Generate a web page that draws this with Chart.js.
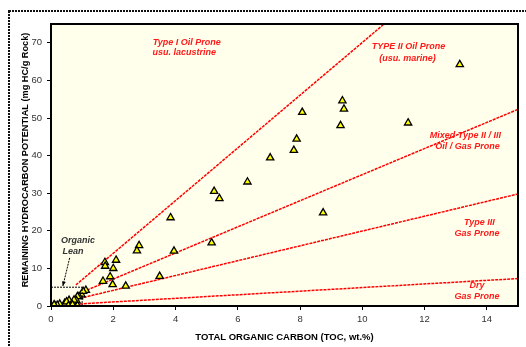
<!DOCTYPE html>
<html>
<head>
<meta charset="utf-8">
<script src="https://cdn.jsdelivr.net/npm/chart.js@4.4.1/dist/chart.umd.min.js"></script>
<style>
  html, body { margin: 0; padding: 0; background: #fff; }
  #wrap { width: 526px; height: 347px; }
</style>
</head>
<body>
<div id="wrap"><canvas id="tocChart" width="526" height="347"></canvas></div>
<script>
// Samples: TOC (wt.%) vs remaining potential S2 (mg HC/g rock)
const tocValues = [13.13, 8.07, 9.36, 9.41, 9.30, 11.47, 7.89, 7.80, 7.04, 8.74,
  6.31, 5.24, 5.41, 3.84, 5.16, 2.83, 2.76, 3.95, 2.09, 1.73,
  1.74, 2.00, 1.67, 1.90, 1.98, 2.40, 3.49, 1.12, 0.98, 1.03,
  0.90, 0.85, 0.82, 0.71, 0.58, 0.44, 0.28, 0.12, 0.00, 0.66,
  0.82, 0.85, 0.50, 0.20, 0.10, 0.56, 0.74, 0.69];
const s2Values = [64.2, 51.5, 54.6, 52.4, 48.0, 48.7, 44.4, 41.4, 39.4, 24.8,
  33.0, 30.5, 28.6, 23.5, 16.8, 16.1, 14.7, 14.6, 12.2, 11.6,
  10.6, 10.0, 6.6, 7.8, 5.7, 5.3, 7.9, 4.2, 3.0, 3.9,
  2.5, 2.5, 1.4, 0.9, 1.5, 0.7, 0.5, 0.2, 0.1, 0.0,
  0.0, 0.1, 1.1, 0.2, 0.3, 0.1, 1.6, 0.3];

// kerogen boundary lines, [toc, s2] end points
const typeILine = [[0.8, 5.6], [10.7, 75]];
const mixedLine = [[0.8, 3.0], [15, 52.3]];
const typeIIILine = [[0.8, 1.8], [15, 29.8]];
const dryLine = [[0.8, 0.5], [15, 7.3]];

// organic lean cut-offs
const leanToc = 1.0;
const leanS2 = 5.0;

const xTicks = [0, 2, 4, 6, 8, 10, 12, 14];
const yTicks = [0, 10, 20, 30, 40, 50, 60, 70];

const xTitle = 'TOTAL ORGANIC CARBON (TOC, wt.%)';
const yTitle = 'REMAINING HYDROCARBON POTENTIAL (mg HC/g Rock)';

const FONT = "'Liberation Sans', Arial, sans-serif";

const toPoints = arr => arr.map(p => ({ x: p[0], y: p[1] }));

const regionLabels = [
    { text: 'Type I Oil Prone', x: 4.36, y: 70.2 },
    { text: 'usu. lacustrine', x: 4.28, y: 67.4 },
    { text: 'TYPE II Oil Prone', x: 11.48, y: 69.0 },
    { text: '(usu. marine)', x: 11.45, y: 65.9 },
    { text: 'Mixed Type II / III', x: 13.31, y: 45.3 },
    { text: 'Oil / Gas Prone', x: 13.38, y: 42.5 },
    { text: 'Type III', x: 13.76, y: 22.2 },
    { text: 'Gas Prone', x: 13.68, y: 19.3 },
    { text: 'Dry', x: 13.68, y: 5.4 },
    { text: 'Gas Prone', x: 13.68, y: 2.5 }
];

const decorPlugin = {
    id: 'decor',
    beforeDraw(chart) {
        const { ctx, chartArea } = chart;
        ctx.save();
        ctx.fillStyle = '#FFFFEC';
        ctx.fillRect(chartArea.left, chartArea.top, chartArea.right - chartArea.left, chartArea.bottom - chartArea.top);
        // outer frame
        ctx.strokeStyle = '#111';
        ctx.lineWidth = 2;
        ctx.setLineDash([2, 1]);
        ctx.strokeRect(9, 11, 530, 350);
        ctx.restore();
    },
    afterDatasetsDraw(chart) {
        const { ctx, chartArea, scales } = chart;
        const xs = scales.x, ys = scales.y;
        ctx.save();

        // lean box
        ctx.strokeStyle = '#000';
        ctx.lineWidth = 1;
        ctx.setLineDash([2, 1]);
        ctx.beginPath();
        ctx.moveTo(xs.getPixelForValue(0), ys.getPixelForValue(leanS2));
        ctx.lineTo(xs.getPixelForValue(leanToc), ys.getPixelForValue(leanS2));
        ctx.lineTo(xs.getPixelForValue(leanToc), ys.getPixelForValue(0));
        ctx.stroke();

        // arrow from label to box
        const ax1 = xs.getPixelForValue(0.6), ay1 = ys.getPixelForValue(12.8);
        const ax2 = xs.getPixelForValue(0.38), ay2 = ys.getPixelForValue(5.3);
        ctx.beginPath();
        ctx.moveTo(ax1, ay1);
        ctx.lineTo(ax2, ay2);
        ctx.stroke();
        const ang = Math.atan2(ay2 - ay1, ax2 - ax1);
        ctx.setLineDash([]);
        ctx.fillStyle = '#000';
        ctx.beginPath();
        ctx.moveTo(ax2, ay2);
        ctx.lineTo(ax2 - 5 * Math.cos(ang - 0.4), ay2 - 5 * Math.sin(ang - 0.4));
        ctx.lineTo(ax2 - 5 * Math.cos(ang + 0.4), ay2 - 5 * Math.sin(ang + 0.4));
        ctx.closePath();
        ctx.fill();

        ctx.textAlign = 'center';
        ctx.textBaseline = 'middle';
        ctx.font = `italic bold 9px ${FONT}`;
        ctx.fillStyle = '#333';
        ctx.fillText('Organic', xs.getPixelForValue(0.87), ys.getPixelForValue(17.3));
        ctx.fillText('Lean', xs.getPixelForValue(0.71), ys.getPixelForValue(14.4));

        ctx.fillStyle = '#FF1A1A';
        regionLabels.forEach(l => {
            ctx.fillText(l.text, xs.getPixelForValue(l.x), ys.getPixelForValue(l.y));
        });

        // plot frame
        ctx.strokeStyle = '#000';
        ctx.lineWidth = 2;
        ctx.strokeRect(chartArea.left, chartArea.top, chartArea.right - chartArea.left, chartArea.bottom - chartArea.top);

        // axis titles
        ctx.fillStyle = '#000';
        ctx.font = `bold 9.5px ${FONT}`;
        ctx.fillText(xTitle, (chartArea.left + chartArea.right) / 2, 337);
        ctx.translate(25, 160);
        ctx.rotate(-Math.PI / 2);
        ctx.font = `bold 9.2px ${FONT}`;
        ctx.fillText(yTitle, 0, 0);
        ctx.restore();
    }
};

const boundaryStyle = {
    type: 'line',
    showLine: true,
    borderColor: '#FF0000',
    borderWidth: 1.5,
    borderDash: [3, 1],
    pointRadius: 0,
    fill: false,
    order: 2
};

const tickFont = { family: FONT, size: 9.5 };

const ctx = document.getElementById('tocChart').getContext('2d');
new Chart(ctx, {
    type: 'scatter',
    data: {
        datasets: [
            {
                label: 'Samples',
                data: tocValues.map((t, i) => ({ x: t, y: s2Values[i] })),
                pointStyle: 'triangle',
                pointRadius: 4.2,
                backgroundColor: '#FFFF00',
                borderColor: '#000',
                borderWidth: 1.3,
                order: 0
            },
            { ...boundaryStyle, label: 'Type I', data: toPoints(typeILine) },
            { ...boundaryStyle, label: 'Mixed', data: toPoints(mixedLine) },
            { ...boundaryStyle, label: 'Type III', data: toPoints(typeIIILine) },
            { ...boundaryStyle, label: 'Dry', data: toPoints(dryLine) }
        ]
    },
    options: {
        responsive: false,
        animation: false,
        devicePixelRatio: 1,
        layout: { padding: { top: 24, right: 8, left: 0, bottom: 0 } },
        plugins: {
            legend: { display: false },
            tooltip: { enabled: false }
        },
        scales: {
            x: {
                type: 'linear',
                min: 0,
                max: 15,
                afterBuildTicks: scale => { scale.ticks = xTicks.map(v => ({ value: v })); },
                afterFit: scale => { scale.height = 41; },
                ticks: { font: tickFont, color: '#333', padding: 4 },
                grid: { drawOnChartArea: false, drawTicks: true, tickLength: 4, color: '#000' },
                border: { display: false }
            },
            y: {
                type: 'linear',
                min: 0,
                max: 75,
                afterBuildTicks: scale => { scale.ticks = yTicks.map(v => ({ value: v })); },
                afterFit: scale => { scale.width = 51; },
                ticks: { font: tickFont, color: '#333', padding: 5 },
                grid: { drawOnChartArea: false, drawTicks: true, tickLength: 4, color: '#000' },
                border: { display: false }
            }
        }
    },
    plugins: [decorPlugin]
});
</script>
</body>
</html>
